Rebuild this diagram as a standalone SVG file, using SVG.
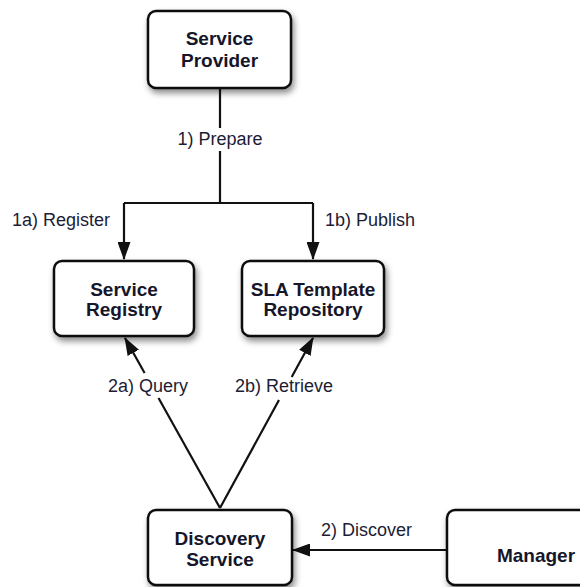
<svg xmlns="http://www.w3.org/2000/svg" width="580" height="587" viewBox="0 0 580 587">
  <style>
    .box { fill: #ffffff; stroke: #111111; stroke-width: 2.5; filter: url(#shadow); }
    .name { font-family: "Liberation Sans", Arial, sans-serif; font-size: 19px; font-weight: bold; fill: #16162a; text-anchor: middle; }
    .label { font-family: "Liberation Sans", Arial, sans-serif; font-size: 18px; fill: #1c1c34; }
    .wire { fill: none; stroke: #111111; stroke-width: 2.2; }
  </style>
  <defs>
    <filter id="shadow" x="-20%" y="-20%" width="140%" height="150%">
      <feDropShadow dx="2" dy="4" stdDeviation="3" flood-color="#000000" flood-opacity="0.45"/>
    </filter>
    <marker id="arrow" markerUnits="userSpaceOnUse" markerWidth="18" markerHeight="13" refX="17" refY="6.5" orient="auto">
      <path d="M0,0 L18,6.5 L0,13 z" fill="#111111"/>
    </marker>
  </defs>

  <rect width="580" height="587" fill="#ffffff"/>

  <!-- connectors -->
  <g id="connectors">
    <path class="wire" d="M220,88 V128"/>
    <path class="wire" d="M220,151 V203"/>
    <path class="wire" d="M124,203 H313"/>
    <path class="wire" d="M124,203 V259" marker-end="url(#arrow)"/>
    <path class="wire" d="M313,203 V259" marker-end="url(#arrow)"/>
    <path class="wire" d="M220,508 L158.5,398"/>
    <path class="wire" d="M144.6,373 L125,338" marker-end="url(#arrow)"/>
    <path class="wire" d="M220,508 L279,400"/>
    <path class="wire" d="M291.7,377 L313,338" marker-end="url(#arrow)"/>
    <path class="wire" d="M447,550 H293" marker-end="url(#arrow)"/>
  </g>

  <!-- connector labels -->
  <g id="labels">
    <text class="label" x="220" y="145" text-anchor="middle">1) Prepare</text>
    <text class="label" x="12" y="226">1a) Register</text>
    <text class="label" x="325" y="226">1b) Publish</text>
    <text class="label" x="108" y="392">2a) Query</text>
    <text class="label" x="235" y="392">2b) Retrieve</text>
    <text class="label" x="321" y="536">2) Discover</text>
  </g>

  <!-- nodes -->
  <g id="service-provider">
    <rect class="box" x="148" y="11" width="143" height="77" rx="8"/>
    <text class="name" x="219.5" y="45">Service</text>
    <text class="name" x="219.5" y="67">Provider</text>
  </g>

  <g id="service-registry">
    <rect class="box" x="54" y="261" width="140" height="75" rx="8"/>
    <text class="name" x="124" y="296">Service</text>
    <text class="name" x="124" y="316">Registry</text>
  </g>

  <g id="sla-template-repository">
    <rect class="box" x="242" y="261" width="142" height="75" rx="8"/>
    <text class="name" x="313" y="296">SLA Template</text>
    <text class="name" x="313" y="316">Repository</text>
  </g>

  <g id="discovery-service">
    <rect class="box" x="148" y="510" width="144" height="75" rx="8"/>
    <text class="name" x="220" y="545">Discovery</text>
    <text class="name" x="220" y="566">Service</text>
  </g>

  <g id="manager">
    <rect class="box" x="447" y="510" width="180" height="75" rx="8"/>
    <text class="name" x="536" y="562">Manager</text>
  </g>
</svg>
